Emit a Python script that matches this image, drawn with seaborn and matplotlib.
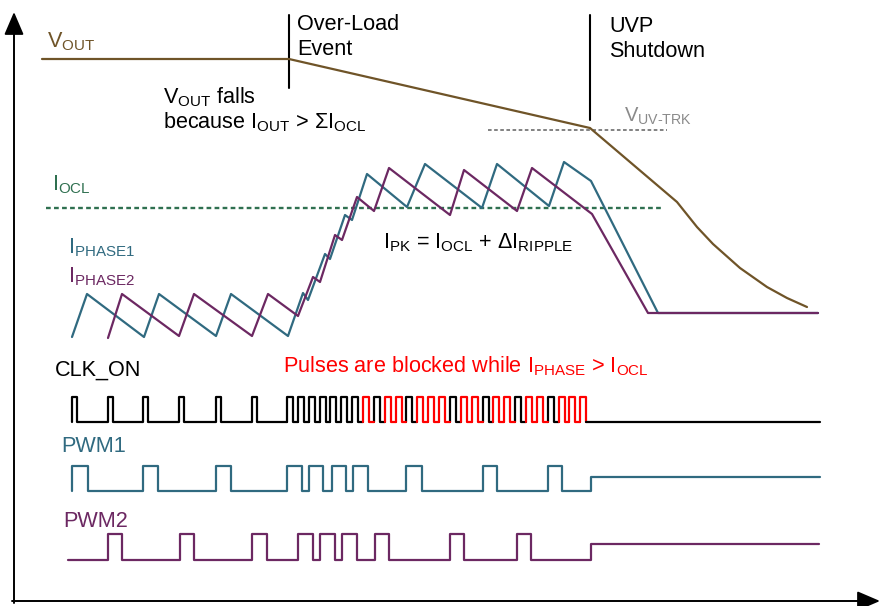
import matplotlib
matplotlib.use("Agg")
import matplotlib.pyplot as plt
import pandas as pd
import seaborn as sns

# time axis (x) and level axis (y) are in picture units, y grows downward
vout_x = [42, 289, 590, 677, 697, 713, 740, 767, 787, 807]
vout_y = [59, 59, 128, 202, 227, 244, 268, 287, 298, 307]

phase1_x = [72, 87, 144, 159, 216, 231, 288, 303, 308, 325, 330, 345, 352, 367,
            407, 425, 482, 497, 549, 564, 591, 658, 818]
phase1_y = [337, 294, 337, 294, 336, 294, 336, 293, 300, 254, 259, 215, 220, 174,
            207, 164, 208, 164, 206, 162, 181, 313, 313]

phase2_x = [108, 122, 179, 194, 252, 268, 298, 313, 320, 335, 342, 357, 374, 389,
            450, 464, 517, 532, 592, 648, 818]
phase2_y = [338, 294, 336, 294, 336, 294, 316, 277, 282, 235, 240, 197, 211, 168,
            215, 170, 211, 168, 214, 313, 313]

iocl_level = 208
iocl_span = [46, 662]
uvtrk_level = 130
uvtrk_span = [488, 667]

# CLK_ON pulse rising edges
clk_slow = [72, 108, 143, 179, 216, 252]
clk_fast = [287, 298, 309, 320, 330, 341, 352, 363, 374, 385, 396, 406, 417, 428,
            439, 450, 461, 472, 483, 493, 504, 515, 526, 537, 548, 559, 569, 580]
clk_blocked = [7, 9, 10, 12, 13, 14, 16, 17, 19, 20, 22, 23, 25, 26, 27]
clk_end = 820

pwm1_pulses = [(72, 88), (143, 158), (216, 231), (287, 302), (309, 323), (332, 346),
               (353, 368), (406, 422), (483, 497), (548, 562)]
pwm2_pulses = [(108, 122), (180, 194), (252, 267), (298, 313), (320, 335), (342, 357),
               (375, 389), (450, 464), (517, 531)]
shutdown_x = 591

c_vout = "#6f5428"
c_ph1 = "#306a80"
c_ph2 = "#6c2862"
c_ocl = "#2f7050"
c_gray = "#8a8a8a"

sns.set_theme(style="white")
plt.rcParams["font.family"] = ["Liberation Sans", "DejaVu Sans"]
plt.rcParams["mathtext.fontset"] = "custom"
plt.rcParams["mathtext.rm"] = "Liberation Sans"
plt.rcParams["mathtext.it"] = "Liberation Sans:italic"

fig = plt.figure(figsize=(8.81, 6.06), dpi=100)
ax = fig.add_axes([0, 0, 1, 1])
ax.set_xlim(0, 881)
ax.set_ylim(606, 0)
ax.axis("off")

LW = 1.6


def trace(xs, ys, color, lw=LW, units=None):
    df = pd.DataFrame({"x": xs, "y": ys})
    if units is not None:
        df["u"] = units
        sns.lineplot(data=df, x="x", y="y", units="u", estimator=None, sort=False,
                     color=color, lw=lw, ax=ax, legend=False)
    else:
        sns.lineplot(data=df, x="x", y="y", estimator=None, sort=False,
                     color=color, lw=lw, ax=ax, legend=False)


def pulse_train(start, pulses, low, high):
    xs, ys = [start], [low]
    for r, f in pulses:
        xs += [r, r, f, f]
        ys += [low, high, high, low]
    return xs, ys


# axes arrows
arrow = dict(arrowstyle="-|>,head_length=0.7,head_width=0.3",
             mutation_scale=20, color="black", lw=1.4, shrinkA=0, shrinkB=0)
ax.annotate("", xy=(14, 12), xytext=(14, 603), arrowprops=arrow)
ax.annotate("", xy=(880, 601), xytext=(12, 601), arrowprops=arrow)

# event markers
trace([289, 289], [15, 88], "black", lw=1.5)
trace([590, 590], [15, 120], "black", lw=1.5)

# reference levels
ax.plot(iocl_span, [iocl_level, iocl_level], color=c_ocl, lw=1.7, dashes=(2, 1.4))
ax.plot(uvtrk_span, [uvtrk_level, uvtrk_level], color="#777777", lw=1.3, dashes=(2, 1.4))

# analog traces
trace(vout_x, vout_y, c_vout)
trace(phase1_x, phase1_y, c_ph1)
trace(phase2_x, phase2_y, c_ph2)

# CLK_ON
clk_lo, clk_hi = 422, 397
sx, sy = pulse_train(72, [(r, r + 5) for r in clk_slow], clk_lo, clk_hi)
sx.append(clk_fast[0])
sy.append(clk_lo)
trace(sx, sy, "black")
bx, by, bu, rx, ry, ru = [], [], [], [], [], []
for i, r in enumerate(clk_fast):
    nxt = clk_fast[i + 1] if i + 1 < len(clk_fast) else r + 5.5
    seg_x = [r, r, r + 5.5, r + 5.5, nxt]
    seg_y = [clk_lo, clk_hi, clk_hi, clk_lo, clk_lo]
    if i in clk_blocked:
        rx += seg_x; ry += seg_y; ru += [i] * 5
    else:
        bx += seg_x; by += seg_y; bu += [i] * 5
trace(bx, by, "black", units=bu)
trace(rx, ry, "#ff0000", units=ru)
trace([clk_fast[-1] + 5.5, clk_end], [clk_lo, clk_lo], "black")

# PWM1 / PWM2
p1x, p1y = pulse_train(72, pwm1_pulses, 491, 466)
p1x += [shutdown_x, shutdown_x, 820]
p1y += [491, 477, 477]
trace(p1x, p1y, c_ph1)
p2x, p2y = pulse_train(68, pwm2_pulses, 560, 534)
p2x += [shutdown_x, shutdown_x, 819]
p2y += [560, 544, 544]
trace(p2x, p2y, c_ph2)

# labels
FS = 15.6
kw = dict(fontsize=FS, va="baseline", ha="left")
ax.text(47, 47, r"V$_{\mathrm{OUT}}$", color=c_vout, **kw)
ax.text(297, 30, "Over-Load", color="black", **kw)
ax.text(297, 55, "Event", color="black", **kw)
ax.text(609, 32, "UVP", color="black", **kw)
ax.text(609, 57, "Shutdown", color="black", **kw)
ax.text(163, 103, r"V$_{\mathrm{OUT}}$ falls", color="black", **kw)
ax.text(163, 128, r"because I$_{\mathrm{OUT}}$ > ΣI$_{\mathrm{OCL}}$", color="black", **kw)
ax.text(624, 122, r"V$_{\mathrm{UV\text{-}TRK}}$", color=c_gray, fontsize=14.5,
        va="baseline", ha="left")
ax.text(52, 190, r"I$_{\mathrm{OCL}}$", color=c_ocl, **kw)
ax.text(68, 253, r"I$_{\mathrm{PHASE1}}$", color=c_ph1, **kw)
ax.text(68, 282, r"I$_{\mathrm{PHASE2}}$", color=c_ph2, **kw)
ax.text(383, 248, r"I$_{\mathrm{PK}}$ = I$_{\mathrm{OCL}}$ + ΔI$_{\mathrm{RIPPLE}}$",
        color="black", **kw)
ax.text(55, 376, "CLK_ON", color="black", **kw)
ax.text(283, 372, r"Pulses are blocked while I$_{\mathrm{PHASE}}$ > I$_{\mathrm{OCL}}$",
        color="#ff0000", **kw)
ax.text(61, 452, "PWM1", color=c_ph1, **kw)
ax.text(63, 527, "PWM2", color=c_ph2, **kw)

fig.savefig("out.png", dpi=100)
